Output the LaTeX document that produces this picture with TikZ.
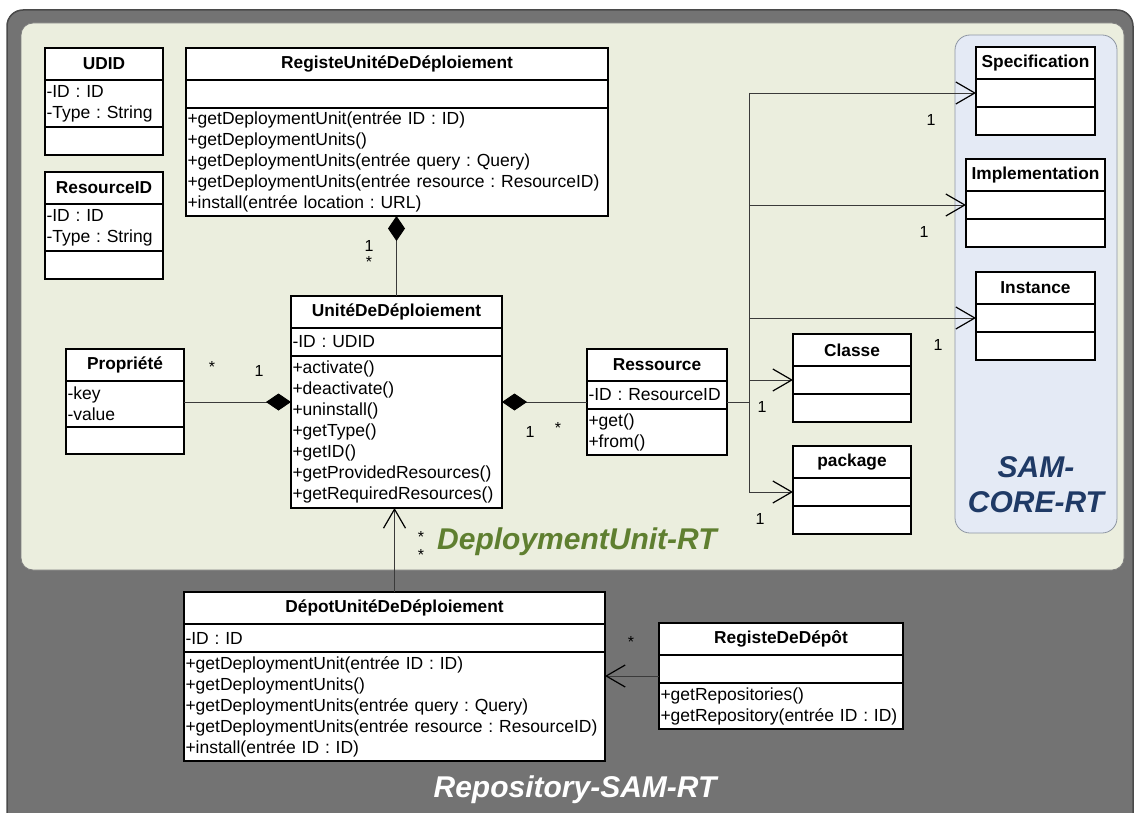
\documentclass[tikz,border=0pt]{standalone}
\usepackage{fontspec}
\setmainfont{Liberation Sans}
\usepackage{xcolor}
\usepackage{tikz}
\usetikzlibrary{arrows.meta, positioning}
\frenchspacing

\definecolor{outergray}{HTML}{737373}
\definecolor{outerline}{HTML}{4A4A4A}
\definecolor{panelgreen}{HTML}{EBEEDE}
\definecolor{panelline}{HTML}{7F7F7F}
\definecolor{coreblue}{HTML}{E4EAF5}
\definecolor{coreline}{HTML}{8E96A3}
\definecolor{duGreen}{HTML}{5F7F30}
\definecolor{coreText}{HTML}{1F3A66}
\definecolor{linkgray}{HTML}{3A3A3A}

\newcommand\memberfont{\fontsize{17.5}{21}\selectfont}
\newcommand\titlefont{\fontsize{17.3}{21}\selectfont\bfseries}
\newcommand\multfont{\fontsize{16}{18}\selectfont}
\newcommand\zonefont{\fontsize{30}{35}\selectfont\bfseries\itshape}

\begin{document}
\begin{tikzpicture}[
  x=1pt, y=-1pt,
  ctitle/.style={draw, fill=white, line width=1.3pt, minimum height=32, inner sep=0pt, outer sep=0pt, font=\titlefont, anchor=north west},
  cpart/.style={draw, fill=white, line width=1.3pt, minimum height=28, inner xsep=1.5pt, inner ysep=0pt, outer sep=0pt, align=left, font=\memberfont},
  assoc/.style={draw=linkgray, line width=0.9pt},
  comp/.style={assoc, -{Diamond[length=25pt, width=17pt, color=black]}},
  nav/.style={assoc, -{Straight Barb[length=19pt, width=22pt, line width=1.2pt, color=black]}},
  mult/.style={font=\multfont, inner sep=0pt},
  zone/.style={font=\zonefont, inner sep=0pt}
]
  \clip (0,0) rectangle (1134,813);
  \fill[white] (0,0) rectangle (1134,813);

  % zones
  \draw[fill=outergray, draw=outerline, line width=1.5pt, rounded corners=16pt] (7,10) rectangle (1133,850);
  \draw[fill=panelgreen, draw=panelline, line width=0.8pt, rounded corners=12pt] (21,23) rectangle (1124,570);
  \draw[fill=coreblue, draw=coreline, line width=0.8pt, rounded corners=15pt] (955,35) rectangle (1117,533);

  % UDID
  \node[ctitle, minimum width=118] (udid) at (45,48) {UDID};
  \node[cpart, text width=115pt, minimum height=47, below=0pt of udid] (udidA) {-ID : ID\\-Type : String};
  \node[cpart, text width=115pt, below=0pt of udidA] (udidM) {};

  % ResourceID
  \node[ctitle, minimum width=118] (rid) at (45,172) {ResourceID};
  \node[cpart, text width=115pt, minimum height=47, below=0pt of rid] (ridA) {-ID : ID\\-Type : String};
  \node[cpart, text width=115pt, below=0pt of ridA] (ridM) {};

  % RegisteUnitéDeDéploiement
  \node[ctitle, minimum width=422] (registe) at (186,48) {RegisteUnitéDeDéploiement};
  \node[cpart, text width=419pt, below=0pt of registe] (registeA) {};
  \node[cpart, text width=419pt, minimum height=108, below=0pt of registeA] (registeM) {+getDeploymentUnit(entrée ID : ID)\\+getDeploymentUnits()\\+getDeploymentUnits(entrée query : Query)\\+getDeploymentUnits(entrée resource : ResourceID)\\+install(entrée location : URL)};

  % UnitéDeDéploiement
  \node[ctitle, minimum width=211] (unite) at (291,296) {UnitéDeDéploiement};
  \node[cpart, text width=208pt, below=0pt of unite] (uniteA) {-ID : UDID};
  \node[cpart, text width=208pt, minimum height=152, below=0pt of uniteA] (uniteM) {+activate()\\+deactivate()\\+uninstall()\\+getType()\\+getID()\\+getProvidedResources()\\+getRequiredResources()};

  % Propriété
  \node[ctitle, minimum width=118] (prop) at (66,349) {Propriété};
  \node[cpart, text width=115pt, minimum height=46, below=0pt of prop] (propA) {-key\\-value};
  \node[cpart, text width=115pt, minimum height=27, below=0pt of propA] (propM) {};

  % Ressource
  \node[ctitle, minimum width=140] (res) at (587,349) {Ressource};
  \node[cpart, text width=137pt, below=0pt of res] (resA) {-ID : ResourceID};
  \node[cpart, text width=137pt, minimum height=46, below=0pt of resA] (resM) {+get()\\+from()};

  % SAM-CORE-RT classes
  \node[ctitle, minimum width=119] (spec) at (976,47) {Specification};
  \node[cpart, text width=116pt, below=0pt of spec] (specA) {};
  \node[cpart, text width=116pt, below=0pt of specA] (specM) {};

  \node[ctitle, minimum width=139] (impl) at (966,159) {Implementation};
  \node[cpart, text width=136pt, below=0pt of impl] (implA) {};
  \node[cpart, text width=136pt, below=0pt of implA] (implM) {};

  \node[ctitle, minimum width=119] (inst) at (976,272) {Instance};
  \node[cpart, text width=116pt, below=0pt of inst] (instA) {};
  \node[cpart, text width=116pt, below=0pt of instA] (instM) {};

  \node[ctitle, minimum width=118] (classe) at (793,334) {Classe};
  \node[cpart, text width=115pt, below=0pt of classe] (classeA) {};
  \node[cpart, text width=115pt, below=0pt of classeA] (classeM) {};

  \node[ctitle, minimum width=118] (pkg) at (793,446) {package};
  \node[cpart, text width=115pt, below=0pt of pkg] (pkgA) {};
  \node[cpart, text width=115pt, below=0pt of pkgA] (pkgM) {};

  % DépotUnitéDeDéploiement
  \node[ctitle, minimum width=421] (depot) at (184,592) {DépotUnitéDeDéploiement};
  \node[cpart, text width=418pt, below=0pt of depot] (depotA) {-ID : ID};
  \node[cpart, text width=418pt, minimum height=109, below=0pt of depotA] (depotM) {+getDeploymentUnit(entrée ID : ID)\\+getDeploymentUnits()\\+getDeploymentUnits(entrée query : Query)\\+getDeploymentUnits(entrée resource : ResourceID)\\+install(entrée ID : ID)};

  % RegisteDeDépôt
  \node[ctitle, minimum width=244] (regd) at (659,623) {RegisteDeDépôt};
  \node[cpart, text width=241pt, below=0pt of regd] (regdA) {};
  \node[cpart, text width=241pt, minimum height=46, below=0pt of regdA] (regdM) {+getRepositories()\\+getRepository(entrée ID : ID)};

  % links
  \coordinate (hub) at (749,402);
  \coordinate (regdIn) at ([yshift=-7pt]regdA.west);
  \draw[comp] (unite.north) -- (unite.north |- registeM.south);
  \draw[comp] (propA.east |- hub) -- (uniteM.west |- hub);
  \draw[comp] (resA.west |- hub) -- (uniteM.east |- hub);
  \draw[assoc] (resA.east |- hub) -- (hub);
  \draw[assoc] (hub |- specA.west) -- (hub |- pkgA.west);
  \draw[nav] (hub |- specA.west) -- (specA.west);
  \draw[nav] (hub |- implA.west) -- (implA.west);
  \draw[nav] (hub |- instA.west) -- (instA.west);
  \draw[nav] (hub |- classeA.west) -- (classeA.west);
  \draw[nav] (hub |- pkgA.west) -- (pkgA.west);
  \draw[nav] (depot.north) -- (depot.north |- uniteM.south);
  \draw[nav] (regdIn) -- (regdIn -| depotM.east);

  % multiplicities
  \node[mult] (mRegOne) at (369,246) {1};
  \node[mult] (mRegStar) at (369,262) {*};
  \node[mult] (mPropStar) at (212,367) {*};
  \node[mult] (mPropOne) at (259,371) {1};
  \node[mult] (mResOne) at (530,432) {1};
  \node[mult] (mResStar) at (558,428) {*};
  \node[mult] (mSpec) at (931,120) {1};
  \node[mult] (mImpl) at (924,232) {1};
  \node[mult] (mInst) at (938,345) {1};
  \node[mult] (mClasse) at (762,407) {1};
  \node[mult] (mPkg) at (760,519) {1};
  \node[mult] (mDepStarA) at (421,537) {*};
  \node[mult] (mDepStarB) at (421,555) {*};
  \node[mult] (mRegdStar) at (631,642) {*};

  % zone labels
  \node[zone, text=duGreen, anchor=west] (duLabel) at (437,542) {DeploymentUnit-RT};
  \node[zone, text=coreText, align=center] (coreLabel) at (1036,485) {SAM-\\CORE-RT};
  \node[zone, text=white] (repoLabel) at (575,790) {Repository-SAM-RT};
\end{tikzpicture}
\end{document}
